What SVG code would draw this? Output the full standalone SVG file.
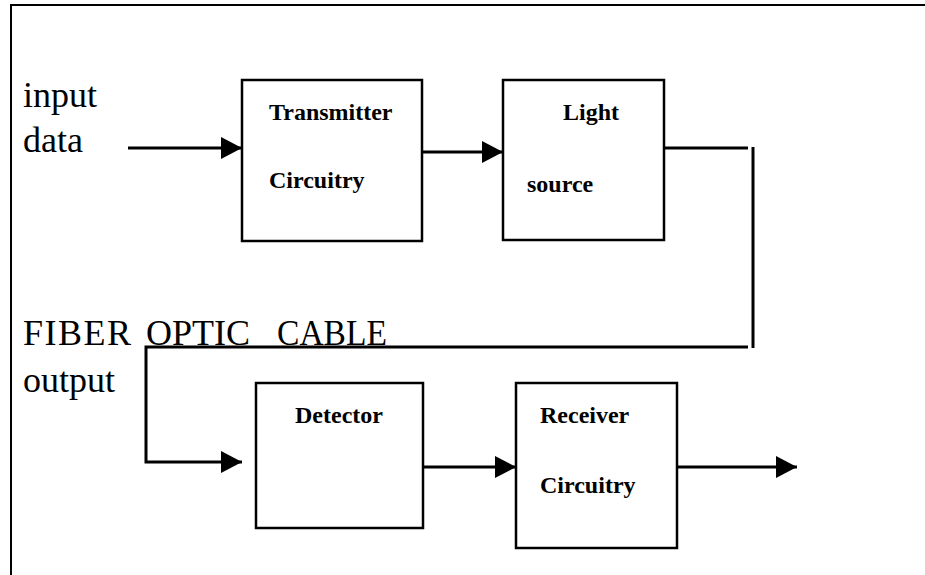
<svg xmlns="http://www.w3.org/2000/svg" width="925" height="575" viewBox="0 0 925 575">
<style>
.box{fill:#fff;stroke:#000;stroke-width:2.5}
.ln{fill:none;stroke:#000;stroke-width:3}
.big{font-family:"Liberation Serif","Times New Roman",serif;font-size:36px;fill:#000}
.lbl{font-family:"Liberation Serif","Times New Roman",serif;font-size:24px;font-weight:bold;fill:#000}
</style>
<defs>
<marker id="ah" markerWidth="21" markerHeight="22" refX="21" refY="11" orient="auto" markerUnits="userSpaceOnUse">
<path d="M0,0 L21,11 L0,22 Z" fill="#000"/>
</marker>
</defs>
<rect width="925" height="575" fill="#fff"/>
<path d="M11,575 V5 H925" fill="none" stroke="#000" stroke-width="2"/>
<g id="labels">
<text class="big" x="23" y="107">input</text>
<text class="big" x="23" y="152">data</text>
<text class="big" y="345"><tspan x="23" textLength="108">FIBER</tspan><tspan x="146">OPTIC</tspan><tspan x="277" textLength="110" lengthAdjust="spacingAndGlyphs">CABLE</tspan></text>
<text class="big" x="23" y="392">output</text>
</g>
<g id="transmitter">
<rect class="box" x="242" y="80" width="180" height="161"/>
<text class="lbl" x="269" y="120">Transmitter</text>
<text class="lbl" x="269" y="188">Circuitry</text>
</g>
<g id="lightsource">
<rect class="box" x="503" y="80" width="161" height="160"/>
<text class="lbl" x="563" y="120">Light</text>
<text class="lbl" x="527" y="192">source</text>
</g>
<g id="detector">
<rect class="box" x="256" y="383" width="167" height="145"/>
<text class="lbl" x="295" y="423">Detector</text>
</g>
<g id="receiver">
<rect class="box" x="516" y="383" width="161" height="165"/>
<text class="lbl" x="540" y="423">Receiver</text>
<text class="lbl" x="540" y="493">Circuitry</text>
</g>
<g id="connectors">
<line class="ln" x1="128" y1="148" x2="242" y2="148" marker-end="url(#ah)"/>
<line class="ln" x1="422" y1="152" x2="503" y2="152" marker-end="url(#ah)"/>
<polyline class="ln" points="664,148 748,148"/>
<line class="ln" x1="753" y1="147" x2="753" y2="348"/>
<polyline class="ln" points="748,347 146,347 146,462 242,462" marker-end="url(#ah)"/>
<line class="ln" x1="423" y1="467" x2="516" y2="467" marker-end="url(#ah)"/>
<line class="ln" x1="677" y1="467" x2="797" y2="467" marker-end="url(#ah)"/>
</g>
</svg>
